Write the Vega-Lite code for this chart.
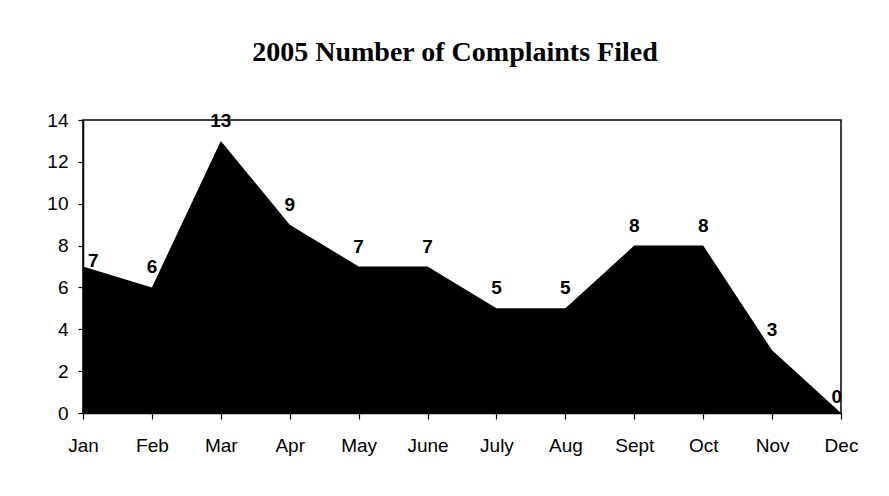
{
  "$schema": "https://vega.github.io/schema/vega-lite/v6.json",
  "width": 758,
  "height": 293,
  "autosize": {"type": "none"},
  "padding": {"left": 83, "top": 120, "right": 48, "bottom": 83},
  "background": "white",
  "config": {
    "view": {"stroke": "black", "strokeWidth": 1.5},
    "axis": {"grid": false, "domainColor": "black", "tickColor": "black", "labelColor": "black", "labelFont": "Liberation Sans", "labelFontSize": 19, "domainWidth": 1.5, "tickWidth": 1.2}
  },
  "title": {
    "text": "2005 Number of Complaints Filed",
    "font": "Liberation Serif",
    "fontSize": 28,
    "fontWeight": "bold",
    "color": "black",
    "anchor": "middle",
    "offset": 44,
    "dx": -7
  },
  "data": {
    "values": [
      {"month": "Jan", "complaints": 7},
      {"month": "Feb", "complaints": 6},
      {"month": "Mar", "complaints": 13},
      {"month": "Apr", "complaints": 9},
      {"month": "May", "complaints": 7},
      {"month": "June", "complaints": 7},
      {"month": "July", "complaints": 5},
      {"month": "Aug", "complaints": 5},
      {"month": "Sept", "complaints": 8},
      {"month": "Oct", "complaints": 8},
      {"month": "Nov", "complaints": 3},
      {"month": "Dec", "complaints": 0}
    ]
  },
  "encoding": {
    "x": {
      "field": "month",
      "type": "ordinal",
      "sort": null,
      "scale": {"type": "point", "padding": 0},
      "axis": {"title": null, "labelAngle": 0, "tickSize": 6, "labelPadding": 17}
    },
    "y": {
      "field": "complaints",
      "type": "quantitative",
      "scale": {"domain": [0, 14], "nice": false},
      "axis": {"title": null, "values": [0, 2, 4, 6, 8, 10, 12, 14], "tickSize": 5, "labelPadding": 10}
    }
  },
  "layer": [
    {"mark": {"type": "area", "color": "black", "opacity": 1, "interpolate": "linear"}},
    {
      "transform": [{"filter": "datum.month !== 'Jan' && datum.month !== 'Dec'"}],
      "mark": {"type": "text", "font": "Liberation Sans", "fontWeight": "bold", "fontSize": 19, "color": "black", "baseline": "alphabetic", "dy": -14},
      "encoding": {"text": {"field": "complaints", "type": "quantitative"}}
    },
    {
      "transform": [{"filter": "datum.month === 'Jan'"}],
      "mark": {"type": "text", "font": "Liberation Sans", "fontWeight": "bold", "fontSize": 19, "color": "black", "baseline": "alphabetic", "align": "left", "dx": 5, "dy": 0},
      "encoding": {"text": {"field": "complaints", "type": "quantitative"}}
    },
    {
      "transform": [{"filter": "datum.month === 'Dec'"}],
      "mark": {"type": "text", "font": "Liberation Sans", "fontWeight": "bold", "fontSize": 19, "color": "black", "baseline": "alphabetic", "align": "right", "dx": 1, "dy": -10},
      "encoding": {"text": {"field": "complaints", "type": "quantitative"}}
    }
  ]
}
